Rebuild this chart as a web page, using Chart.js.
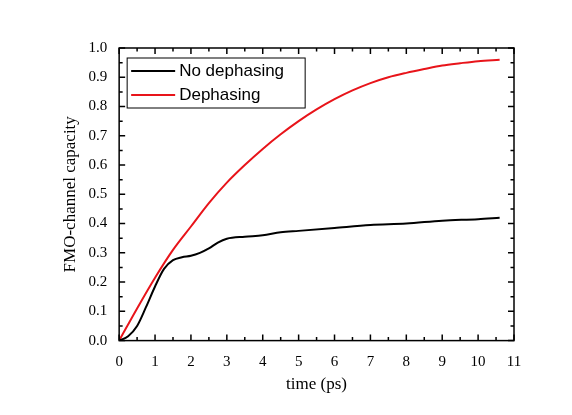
<!DOCTYPE html>
<html><head><script src="https://cdn.jsdelivr.net/npm/chart.js@4"></script>
<style>body{margin:0;background:#fff}#w{width:572px;height:415px}</style></head>
<body><div id="w"><canvas id="c"></canvas></div>
<script>
const redX=[0,0.5,1,1.5,2,2.5,3,3.5,4,4.5,5,5.5,6,6.5,7,7.5,8,8.5,9,9.5,10,10.6];
const redY=[0,0.11,0.215,0.31,0.39,0.47,0.54,0.60,0.655,0.705,0.75,0.79,0.825,0.855,0.88,0.90,0.915,0.928,0.94,0.948,0.955,0.96];
const blkX=[0,0.25,0.5,0.75,1,1.25,1.5,1.75,2,2.25,2.5,2.75,3,3.5,4,4.5,5,6,7,8,9,10,10.6];
const blkY=[0,0.015,0.05,0.115,0.185,0.245,0.275,0.285,0.29,0.30,0.315,0.335,0.348,0.355,0.36,0.37,0.375,0.385,0.395,0.40,0.41,0.415,0.42];
const labels=["No dephasing","Dephasing"];
const pts=(xs,ys)=>xs.map((x,i)=>({x,y:ys[i]}));
const frame={id:'frame',afterDraw(ch){
 const {ctx,chartArea:a,scales:{x,y}}=ch;ctx.save();ctx.strokeStyle='#000';ctx.lineWidth=1.5;
 ctx.strokeRect(a.left,a.top,a.right-a.left,a.bottom-a.top);
 ctx.beginPath();
 for(let v=0;v<=11;v+=0.5){const p=x.getPixelForValue(v),L=(v%1===0)?6:3.5;
  ctx.moveTo(p,a.bottom);ctx.lineTo(p,a.bottom-L);ctx.moveTo(p,a.top);ctx.lineTo(p,a.top+L);}
 for(let i=0;i<=20;i++){const v=i/20,p=y.getPixelForValue(v),L=(i%2===0)?6:3.5;
  ctx.moveTo(a.left,p);ctx.lineTo(a.left+L,p);ctx.moveTo(a.right,p);ctx.lineTo(a.right-L,p);}
 ctx.stroke();
 const lx=a.left+8,ly=a.top+10;ctx.lineWidth=1;ctx.strokeRect(lx,ly,178,50);
 ctx.font='17px "Liberation Sans"';ctx.textBaseline='middle';ctx.fillStyle='#000';
 ch.data.datasets.forEach((d,i)=>{const yy=ly+13+i*24;ctx.strokeStyle=d.borderColor;ctx.lineWidth=2;
  ctx.beginPath();ctx.moveTo(lx+4,yy);ctx.lineTo(lx+48,yy);ctx.stroke();ctx.fillText(d.label,lx+52,yy);});
 ctx.restore();}};
new Chart(document.getElementById('c'),{type:'scatter',
 data:{datasets:[
  {label:labels[0],data:pts(blkX,blkY),showLine:true,borderColor:'#000',borderWidth:2,pointRadius:0,cubicInterpolationMode:'monotone'},
  {label:labels[1],data:pts(redX,redY),showLine:true,borderColor:'#e8141a',borderWidth:2,pointRadius:0,cubicInterpolationMode:'monotone'}]},
 options:{animation:false,responsive:true,maintainAspectRatio:false,
  layout:{padding:{top:48,right:58,left:56,bottom:16}},
  plugins:{legend:{display:false},tooltip:{enabled:false}},
  scales:{
   x:{type:'linear',min:0,max:11,grid:{display:false},border:{display:false},
    ticks:{stepSize:1,color:'#000',font:{family:'Liberation Serif',size:15},padding:4},
    title:{display:true,text:'time (ps)',color:'#000',font:{family:'Liberation Serif',size:17},padding:{top:0}}},
   y:{min:0,max:1,grid:{display:false},border:{display:false},
    ticks:{stepSize:0.1,color:'#000',font:{family:'Liberation Serif',size:15},padding:4,callback:v=>v.toFixed(1)},
    title:{display:true,text:'FMO-channel capacity',color:'#000',font:{family:'Liberation Serif',size:17},padding:{bottom:4}}}}},
 plugins:[frame]});
</script></body></html>
